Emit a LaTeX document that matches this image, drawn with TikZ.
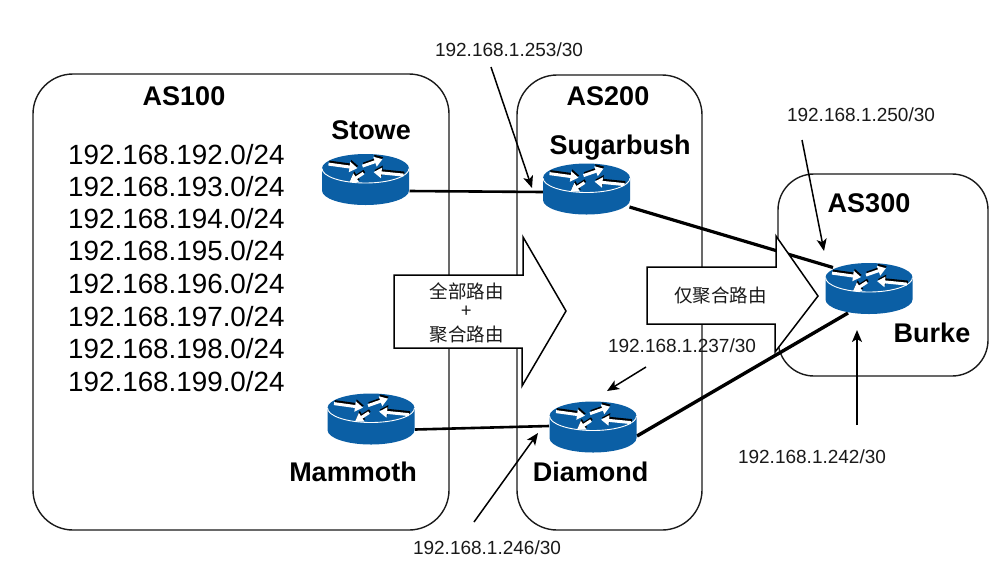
\documentclass[tikz,border=0pt]{standalone}
\usepackage{fontspec}
\setmainfont{Liberation Sans}
\newfontfamily\cjk{Noto Sans CJK SC}
\usetikzlibrary{arrows.meta,calc}
\definecolor{rblue}{HTML}{0B5FA5}
\definecolor{rline}{HTML}{1A1A1A}
\tikzset{
  asbox/.style={draw=rline,line width=1.4pt,rounded corners=#1},
  biglabel/.style={font=\fontsize{27}{30}\selectfont\bfseries,inner sep=0pt,text=black},
  addr/.style={font=\fontsize{19}{22}\selectfont,inner sep=0pt,text=rline},
  netlabel/.style={font=\fontsize{27.8}{30}\selectfont,inner sep=0pt,anchor=west,text=black},
  cjklabel/.style={font=\cjk\fontsize{18.5}{22}\selectfont,inner sep=0pt,text=rline},
  link/.style={line width=#1,draw=black},
  link/.default=2.6pt,
  pointer/.style={line width=1.5pt,draw=black,-{Stealth[length=12pt,width=10pt,inset=3pt]}},
  fatarrow/.style={draw=black,line width=1.5pt,fill=white,line join=miter},
  routerspot/.style={minimum width=87pt,minimum height=51pt,inner sep=0pt,outer sep=0pt},
  pics/routericon/.style={code={
    \fill[rblue] (-43.5,-11) -- (-43.5,11) arc[start angle=180,end angle=0,x radius=43.5,y radius=14.5] -- (43.5,-11) arc[start angle=0,end angle=-180,x radius=43.5,y radius=14.5] -- cycle;
    \draw[white,line width=0.9pt] (-43.5,-11) arc[start angle=180,end angle=0,x radius=43.5,y radius=14.5];
    \foreach \ax/\ay/\bx/\by in {-37/-16/-8/-12, -3/-14/17/-21, -2/-7/-16/2, 38/-5/8/-8}{
      \draw[black,line width=3pt,-{Triangle[length=8pt,width=10pt]}] (\ax+0.8,\ay-1.4) -- (\bx+0.8,\by-1.4);
      \draw[white,line width=3pt,-{Triangle[length=8pt,width=10pt]}] (\ax,\ay+0.6) -- (\bx,\by+0.6);
    }
  }}
}
\begin{document}
\begin{tikzpicture}[x=1pt,y=-1pt]
\useasboundingbox (0,0) rectangle (1000,566);
\fill[white] (0,0) rectangle (1000,566);

\draw[asbox=40pt] (33,74) rectangle (449,530);
\draw[asbox=40pt] (517,75) rectangle (702,530);
\draw[asbox=36pt] (778,174) rectangle (988,376);

\node[routerspot] (stowe) at (365.5,179.5) {};
\node[routerspot] (sugarbush) at (586.5,189) {};
\node[routerspot] (mammoth) at (371,419) {};
\node[routerspot] (diamond) at (593,427) {};
\node[routerspot] (burke) at (869,288.5) {};

\draw[link] ($(stowe.center)+(44,11.5)$) -- ($(sugarbush.center)+(-43,3)$);
\draw[link=3.2pt] ($(sugarbush.center)+(43,18)$) -- ($(burke.center)+(-36,-21)$);
\draw[link] ($(mammoth.center)+(44,10.5)$) -- ($(diamond.center)+(-44,-1)$);

\draw[fatarrow] (394,275) -- (523,275) -- (523,237) -- (566,311) -- (522,386) -- (522,348) -- (394,348) -- cycle;
\draw[fatarrow] (647,267) -- (776,267) -- (776,236) -- (818,296) -- (775,352) -- (775,324) -- (647,324) -- cycle;

\draw[link=3.4pt] ($(diamond.center)+(44,9)$) -- ($(burke.center)+(-21,24.5)$);

\pic at (stowe) {routericon};
\pic at (sugarbush) {routericon};
\pic at (mammoth) {routericon};
\pic at (diamond) {routericon};
\pic at (burke) {routericon};

\node[biglabel] (as100) at (184,96) {AS100};
\node[biglabel] (as200) at (608,96) {AS200};
\node[biglabel] (as300) at (869,203) {AS300};
\node[biglabel] (lstowe) at (371,130) {Stowe};
\node[biglabel] (lsugar) at (620,148) {Sugarbush};
\node[biglabel] (lburke) at (932,333) {Burke};
\node[biglabel] (lmammoth) at (353,472) {Mammoth};
\node[biglabel] (ldiamond) at (590.5,472) {Diamond};

\node[netlabel] (p0) at (68,155) {192.168.192.0/24};
\node[netlabel] (p1) at (68,187) {192.168.193.0/24};
\node[netlabel] (p2) at (68,219) {192.168.194.0/24};
\node[netlabel] (p3) at (68,251) {192.168.195.0/24};
\node[netlabel] (p4) at (68,284) {192.168.196.0/24};
\node[netlabel] (p5) at (68,317) {192.168.197.0/24};
\node[netlabel] (p6) at (68,349) {192.168.198.0/24};
\node[netlabel] (p7) at (68,382) {192.168.199.0/24};

\node[addr] (a253) at (509,50) {192.168.1.253/30};
\node[addr] (a250) at (861,115) {192.168.1.250/30};
\node[addr] (a237) at (682,346) {192.168.1.237/30};
\node[addr] (a242) at (812,457) {192.168.1.242/30};
\node[addr] (a246) at (487,548) {192.168.1.246/30};

\node[cjklabel] (c1) at (466.5,291) {全部路由};
\node[cjklabel] (c2) at (466.5,312) {+};
\node[cjklabel] (c3) at (466.5,335) {聚合路由};
\node[cjklabel] (c4) at (720.5,296) {仅聚合路由};

\coordinate (t253) at (491,67);
\coordinate (h253) at (532,188);
\coordinate (t250) at (802,140);
\coordinate (h250) at (824,251);
\coordinate (t237) at (646,367);
\coordinate (h237) at (607,391);
\coordinate (t242) at (857,425);
\coordinate (h242) at (857,330);
\coordinate (t246) at (474,522);
\coordinate (h246) at (538,433);
\draw[pointer] (t253) -- (h253);
\draw[pointer] (t250) -- (h250);
\draw[pointer] (t237) -- (h237);
\draw[pointer] (t242) -- (h242);
\draw[pointer] (t246) -- (h246);
\end{tikzpicture}
\end{document}
